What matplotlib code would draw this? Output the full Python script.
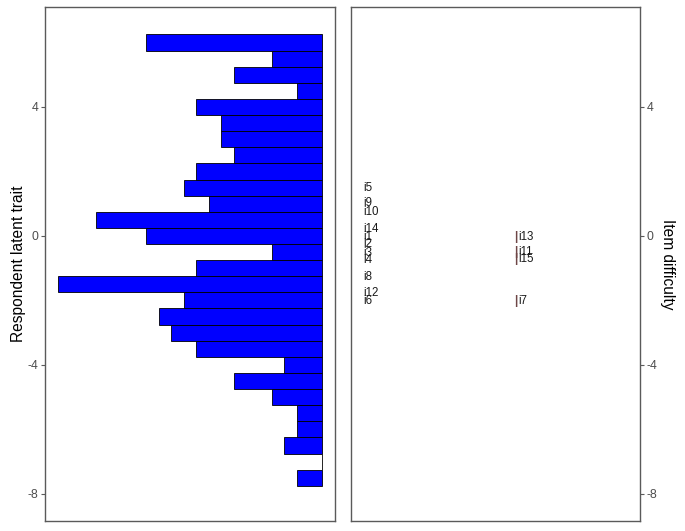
import numpy as np
import matplotlib
matplotlib.use('Agg')
import matplotlib.pyplot as plt

plt.rcParams['font.family'] = ['Liberation Sans', 'DejaVu Sans']
plt.rcParams['axes.unicode_minus'] = False

# person histogram: bins of width 0.5, bin centres from -7.5 to 6.0
bin_width = 0.5
bin_centres = np.arange(-7.5, 6.5, 0.5)
person_counts = [2, 0, 3, 2, 2, 4, 7, 3, 10, 12, 13, 11, 21, 10, 4,
                 14, 18, 9, 11, 10, 7, 8, 8, 10, 2, 7, 4, 14]

# items: label, difficulty, column
item_labels = ['i5', 'i9', 'i10', 'i14', 'i1', 'i2', 'i3', 'i4', 'i8', 'i12', 'i6',
               'i13', 'i11', 'i15', 'i7']
item_difficulty = [1.48, 1.01, 0.73, 0.21, -0.02, -0.25, -0.54, -0.74, -1.28, -1.78, -2.02,
                   -0.04, -0.49, -0.72, -2.01]
item_column = [1, 1, 1, 1, 1, 1, 1, 1, 1, 1, 1,
               2, 2, 2, 2]

yticks = [-8, -4, 0, 4]
ylim = (-8.84, 7.10)

border = '#5a5a5a'
tick_col = '#4d4d4d'

fig = plt.figure(figsize=(6.85, 5.31), dpi=100)
ax1 = fig.add_axes([45 / 685, 10 / 531, 290 / 685, 514 / 531])
ax2 = fig.add_axes([351 / 685, 10 / 531, 289 / 685, 514 / 531])

ax1.barh(bin_centres, person_counts, height=bin_width, color='#0000ff',
         edgecolor='black', linewidth=0.6)
ax1.set_xlim(max(person_counts) * 1.05, -max(person_counts) * 0.05)
ax1.set_ylim(*ylim)
ax1.set_xticks([])
ax1.set_yticks(yticks)
ax1.set_ylabel('Respondent latent trait', fontsize=11.2, labelpad=1)

for lab, d, c in zip(item_labels, item_difficulty, item_column):
    if c == 2:
        ax2.text(c - 0.01, d, '|', ha='right', va='center', fontsize=8.5,
                 color='#6e4646', fontweight='bold')
    ax2.text(c, d, lab, ha='left', va='center', fontsize=8.3, color='#1a1a1a')
ax2.set_xlim(0.922, 2.78)
ax2.set_ylim(*ylim)
ax2.set_xticks([])
ax2.set_yticks(yticks)
ax2.yaxis.tick_right()
ax2.yaxis.set_label_position('right')
ax2.set_ylabel('Item difficulty', fontsize=11.2, rotation=-90, va='bottom', labelpad=1.5)

for ax in (ax1, ax2):
    for s in ax.spines.values():
        s.set_color(border)
        s.set_linewidth(1.0)
    ax.tick_params(axis='y', length=3, width=0.8, color=border, labelsize=8.8,
                   labelcolor=tick_col, pad=2)

fig.savefig('out.png', dpi=100)
